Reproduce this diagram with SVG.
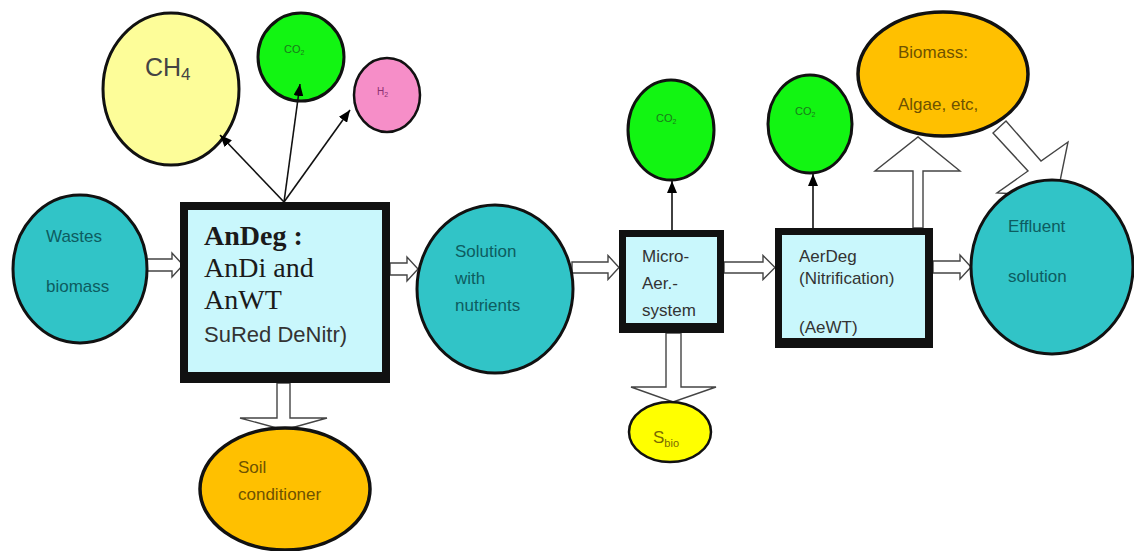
<svg xmlns="http://www.w3.org/2000/svg" width="1134" height="551" viewBox="0 0 1134 551">
<defs>
<marker id="ah" viewBox="0 0 12 10" refX="12" refY="5" markerWidth="12" markerHeight="10" markerUnits="userSpaceOnUse" orient="auto">
<path d="M0,0 L12,5 L0,10 Z" fill="#000"/>
</marker>
</defs>
<style>
.blk{fill:#fff;stroke:#444;stroke-width:1.4;stroke-linejoin:miter}
.ln{stroke:#111;stroke-width:1.6;fill:none}
.teal{fill:#31c4c7;stroke:#111;stroke-width:3}
.org{fill:#ffc000;stroke:#111;stroke-width:3.5}
.grn{fill:#12f512;stroke:#111;stroke-width:3}
.t{font-family:"Liberation Sans",Arial,sans-serif;font-size:17px}
.tt{fill:#0d5c60}
.to{fill:#6e5200}
.tb{fill:#333}
.tg{fill:#1a7a1a;font-size:11px}
.sv{font-family:"Liberation Serif","Times New Roman",serif;fill:#1a1a1a;font-size:28px}
</style>
<rect width="1134" height="551" fill="#fff"/>
<g id="connectors-block">
<polygon class="blk" points="146,259 172,259 172,253 183,265 172,277 172,271 146,271"/>
<polygon class="blk" points="390,263 407,263 407,257 418,269 407,281 407,275 390,275"/>
<polygon class="blk" points="572,262 608,262 608,255.5 619,267.5 608,279.5 608,273 572,273"/>
<polygon class="blk" points="724,262 763,262 763,255.5 775,267.5 763,279.5 763,273 724,273"/>
<polygon class="blk" points="933,261 960,261 960,255 971,267 960,279 960,273 933,273"/>
<polygon class="blk" points="277,383 290,383 290,418 327,418 284,430 240,418 277,418"/>
<polygon class="blk" points="666,333 681,333 681,387 716,387 673,402 631,387 666,387"/>
<polygon class="blk" points="913,228 923,228 923,171 960,171 918,137 875,171 913,171"/>
<polygon class="blk" points="1006,121 1041,161 1068,142 1057,196 997,193 1028,171 993,133"/>
</g>
<g id="wastes">
<ellipse class="teal" cx="80" cy="269" rx="67" ry="74"/>
<text class="t tt" x="46" y="242">Wastes</text>
<text class="t tt" x="46" y="292">biomass</text>
</g>
<g id="ch4">
<ellipse cx="171" cy="89" rx="68" ry="76" fill="#fdfd99" stroke="#111" stroke-width="3"/>
<text class="t" x="145" y="76" style="font-size:25px" fill="#444">CH<tspan style="font-size:17px" dy="4">4</tspan></text>
</g>
<g id="co2-a">
<ellipse class="grn" cx="301" cy="57" rx="43" ry="44"/>
<text class="t tg" x="284" y="53">CO<tspan style="font-size:7px" dy="2">2</tspan></text>
</g>
<g id="h2">
<ellipse cx="387" cy="95" rx="33" ry="37" fill="#f68ec8" stroke="#111" stroke-width="2.5"/>
<text class="t" x="377" y="95" style="font-size:10px" fill="#8a3070">H<tspan style="font-size:7px" dy="2">2</tspan></text>
</g>
<g id="andeg">
<rect x="180" y="202" width="210" height="181" fill="#111"/>
<rect x="188" y="210" width="194" height="162" fill="#c9f7fc"/>
<text class="sv" x="204" y="245" font-weight="bold">AnDeg :</text>
<text class="sv" x="204" y="277">AnDi and</text>
<text class="sv" x="204" y="309">AnWT</text>
<text class="t tb" x="204" y="342" style="font-size:22px">SuRed DeNitr)</text>
</g>
<g id="soil">
<ellipse class="org" cx="285" cy="489" rx="85" ry="61"/>
<text class="t to" x="238" y="473">Soil</text>
<text class="t to" x="238" y="500">conditioner</text>
</g>
<g id="solution">
<ellipse class="teal" cx="495" cy="289" rx="78" ry="84"/>
<text class="t tt" x="455" y="257">Solution</text>
<text class="t tt" x="455" y="284">with</text>
<text class="t tt" x="455" y="311">nutrients</text>
</g>
<g id="micro">
<rect x="619" y="230" width="105" height="103" fill="#111"/>
<rect x="626" y="237" width="91" height="86" fill="#c9f7fc"/>
<text class="t tb" x="642" y="262">Micro-</text>
<text class="t tb" x="642" y="289">Aer.-</text>
<text class="t tb" x="642" y="316">system</text>
</g>
<g id="co2-b">
<ellipse class="grn" cx="671" cy="130" rx="43" ry="50"/>
<text class="t tg" x="656" y="122">CO<tspan style="font-size:7px" dy="2">2</tspan></text>
</g>
<g id="sbio">
<ellipse cx="670" cy="432" rx="41" ry="30" fill="#ffff00" stroke="#111" stroke-width="2.5"/>
<text class="t" x="653" y="443" style="font-size:17px" fill="#7a6a00">S<tspan style="font-size:11px" dy="4">bio</tspan></text>
</g>
<g id="aerdeg">
<rect x="775" y="228" width="158" height="120" fill="#111"/>
<rect x="782" y="235" width="143" height="103" fill="#c9f7fc"/>
<text class="t tb" x="799" y="262">AerDeg</text>
<text class="t tb" x="799" y="284">(Nitrification)</text>
<text class="t tb" x="799" y="333">(AeWT)</text>
<rect x="782" y="338" width="143" height="10" fill="#111"/>
</g>
<g id="co2-c">
<ellipse class="grn" cx="810" cy="124" rx="42" ry="49"/>
<text class="t tg" x="795" y="115">CO<tspan style="font-size:7px" dy="2">2</tspan></text>
</g>
<g id="biomass">
<ellipse class="org" cx="943" cy="74" rx="85" ry="62"/>
<text class="t to" x="898" y="58">Biomass:</text>
<text class="t to" x="898" y="110">Algae, etc,</text>
</g>
<g id="effluent">
<ellipse class="teal" cx="1052" cy="267" rx="81" ry="87"/>
<text class="t tt" x="1008" y="232">Effluent</text>
<text class="t tt" x="1008" y="282">solution</text>
</g>
<g id="connectors-lines">
<line class="ln" x1="284" y1="202" x2="220" y2="135" marker-end="url(#ah)"/>
<line class="ln" x1="284" y1="202" x2="300" y2="84" marker-end="url(#ah)"/>
<line class="ln" x1="284" y1="202" x2="350" y2="110" marker-end="url(#ah)"/>
<line class="ln" x1="672" y1="230" x2="672" y2="181" marker-end="url(#ah)"/>
<line class="ln" x1="813" y1="228" x2="813" y2="174" marker-end="url(#ah)"/>
</g>
</svg>
